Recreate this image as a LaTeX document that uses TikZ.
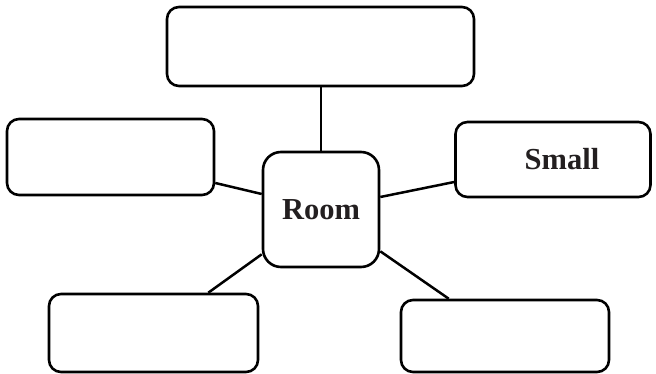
\documentclass[tikz,border=0pt]{standalone}
\usepackage{fontspec}
\setmainfont{Liberation Serif}
\definecolor{inkgray}{HTML}{231F20}

\begin{document}
\begin{tikzpicture}[x=1pt, y=-1pt,
        box/.style={draw, line width=2.6pt, rounded corners=12pt, inner sep=0pt, fill=white},
        link/.style={line width=2.5pt},
        label/.style={font=\fontsize{30.5}{33}\selectfont\bfseries, text=inkgray}]
            \useasboundingbox (0,0) rectangle (656,374);

            \node[box, minimum width=307pt, minimum height=79pt] (topbox) at (320.5, 46.5) {};
            \node[box, minimum width=207pt, minimum height=76pt] (leftbox) at (110.5, 157) {};
            \node[box, minimum width=195pt, minimum height=75pt, label] (smallbox) at (553, 159.5) {\hspace*{18pt}Small};
            \node[box, rounded corners=18pt, minimum width=116pt, minimum height=115pt, label] (room) at (321, 209.5) {Room};
            \node[box, minimum width=209pt, minimum height=78pt] (blbox) at (153.5, 333) {};
            \node[box, minimum width=208pt, minimum height=72pt] (brbox) at (505, 336) {};

            % room-top
            \draw[link] (room.north) -- (room.north |- topbox.south);

            % room-left
            \draw[link] ([yshift=15.5pt]room.west) -- ([yshift=-26pt]leftbox.east);

            % room-small
            \draw[link] ([yshift=12.5pt]room.east) -- ([yshift=-22.5pt]smallbox.west);

            % room-bottom left
            \draw[link] ([yshift=14pt]room.south west) -- ([xshift=-51pt]blbox.north east);

            % room-bottom right
            \draw[link] ([yshift=17pt]room.south east) -- ([xshift=49pt]brbox.north west);
        \end{tikzpicture}
\end{document}
